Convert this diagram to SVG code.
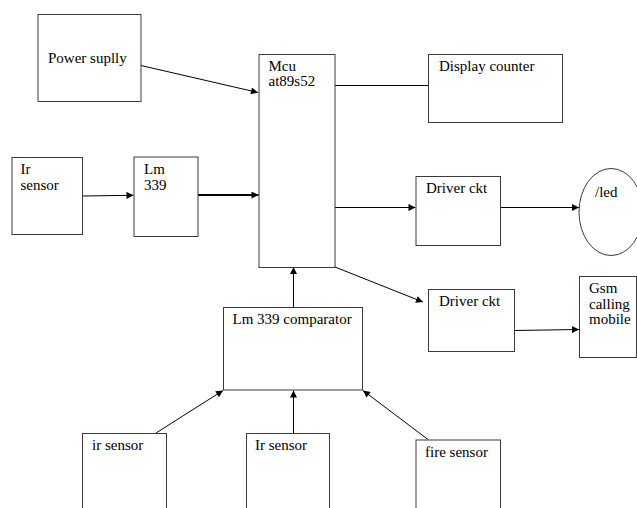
<svg xmlns="http://www.w3.org/2000/svg" width="637" height="508" viewBox="0 0 637 508">
<style>
.box{fill:#fff;stroke:#3a3a3a;stroke-width:1}
.t{font-family:'Liberation Serif','Times New Roman','DejaVu Serif',serif;font-size:15px;fill:#000}
.c{stroke:#000;stroke-width:1;fill:none}
.thick{stroke-width:2}
</style>
<defs>
<marker id="ah" viewBox="0 0 10 10" refX="10" refY="5" markerWidth="9" markerHeight="7" markerUnits="userSpaceOnUse" orient="auto">
<path d="M0,0 L10,5 L0,10 z" fill="#000"/>
</marker>
</defs>
<rect width="637" height="508" fill="#fff"/>
<g id="connectors">
<line class="c" x1="141" y1="65.5" x2="258" y2="92.5" marker-end="url(#ah)"/>
<line class="c" x1="82" y1="196" x2="133.5" y2="195.3" marker-end="url(#ah)"/>
<line class="c thick" x1="198" y1="195" x2="258.5" y2="195" marker-end="url(#ah)"/>
<line class="c" x1="335" y1="85.5" x2="428" y2="85.5"/>
<line class="c" x1="335" y1="207.5" x2="415.5" y2="207.5" marker-end="url(#ah)"/>
<line class="c" x1="500" y1="207.5" x2="579" y2="207.5" marker-end="url(#ah)"/>
<line class="c" x1="335" y1="267" x2="423" y2="302" marker-end="url(#ah)"/>
<line class="c" x1="514" y1="330.5" x2="579" y2="329.5" marker-end="url(#ah)"/>
<line class="c" x1="293.5" y1="307" x2="293.5" y2="267" marker-end="url(#ah)"/>
<line class="c" x1="156" y1="433" x2="223" y2="390.5" marker-end="url(#ah)"/>
<line class="c" x1="293.5" y1="433" x2="293.5" y2="390.5" marker-end="url(#ah)"/>
<line class="c" x1="428" y1="439.5" x2="363" y2="390.5" marker-end="url(#ah)"/>
</g>
<g id="power">
<rect class="box" x="38" y="14.5" width="103" height="87"/>
<text class="t" x="48" y="63">Power suplly</text>
</g>
<g id="mcu">
<rect class="box" x="259" y="54.5" width="76" height="213"/>
<text class="t" x="268.5" y="71">Mcu</text>
<text class="t" x="268.5" y="86">at89s52</text>
</g>
<g id="irsensor1">
<rect class="box" x="12" y="157.5" width="70.5" height="77"/>
<text class="t" x="20.5" y="174">Ir</text>
<text class="t" x="20.5" y="190">sensor</text>
</g>
<g id="lm339">
<rect class="box" x="134" y="157" width="64" height="79.5"/>
<text class="t" x="144" y="174">Lm</text>
<text class="t" x="144" y="189.5">339</text>
</g>
<g id="display">
<rect class="box" x="428.5" y="54.5" width="134" height="68"/>
<text class="t" x="439" y="71">Display counter</text>
</g>
<g id="driver1">
<rect class="box" x="416" y="176.5" width="84.5" height="69"/>
<text class="t" x="426" y="193">Driver ckt</text>
</g>
<g id="led">
<ellipse class="box" cx="611" cy="212" rx="32" ry="43.5"/>
<text class="t" x="595" y="197">/led</text>
</g>
<g id="driver2">
<rect class="box" x="428.5" y="289.5" width="86" height="62"/>
<text class="t" x="439" y="306">Driver ckt</text>
</g>
<g id="gsm">
<rect class="box" x="579.5" y="276.5" width="57" height="81"/>
<text class="t" x="589" y="293">Gsm</text>
<text class="t" x="589" y="308.5">calling</text>
<text class="t" x="589" y="324">mobile</text>
</g>
<g id="comparator">
<rect class="box" x="223.5" y="307.5" width="139" height="82.5"/>
<text class="t" x="232.5" y="323.5">Lm 339 comparator</text>
</g>
<g id="irsensor2">
<rect class="box" x="82.5" y="433.5" width="84" height="90"/>
<text class="t" x="92" y="450">ir sensor</text>
</g>
<g id="irsensor3">
<rect class="box" x="246.5" y="433.5" width="83" height="90"/>
<text class="t" x="255" y="450">Ir sensor</text>
</g>
<g id="firesensor">
<rect class="box" x="416" y="440" width="84.5" height="90"/>
<text class="t" x="425" y="457">fire sensor</text>
</g>
</svg>
